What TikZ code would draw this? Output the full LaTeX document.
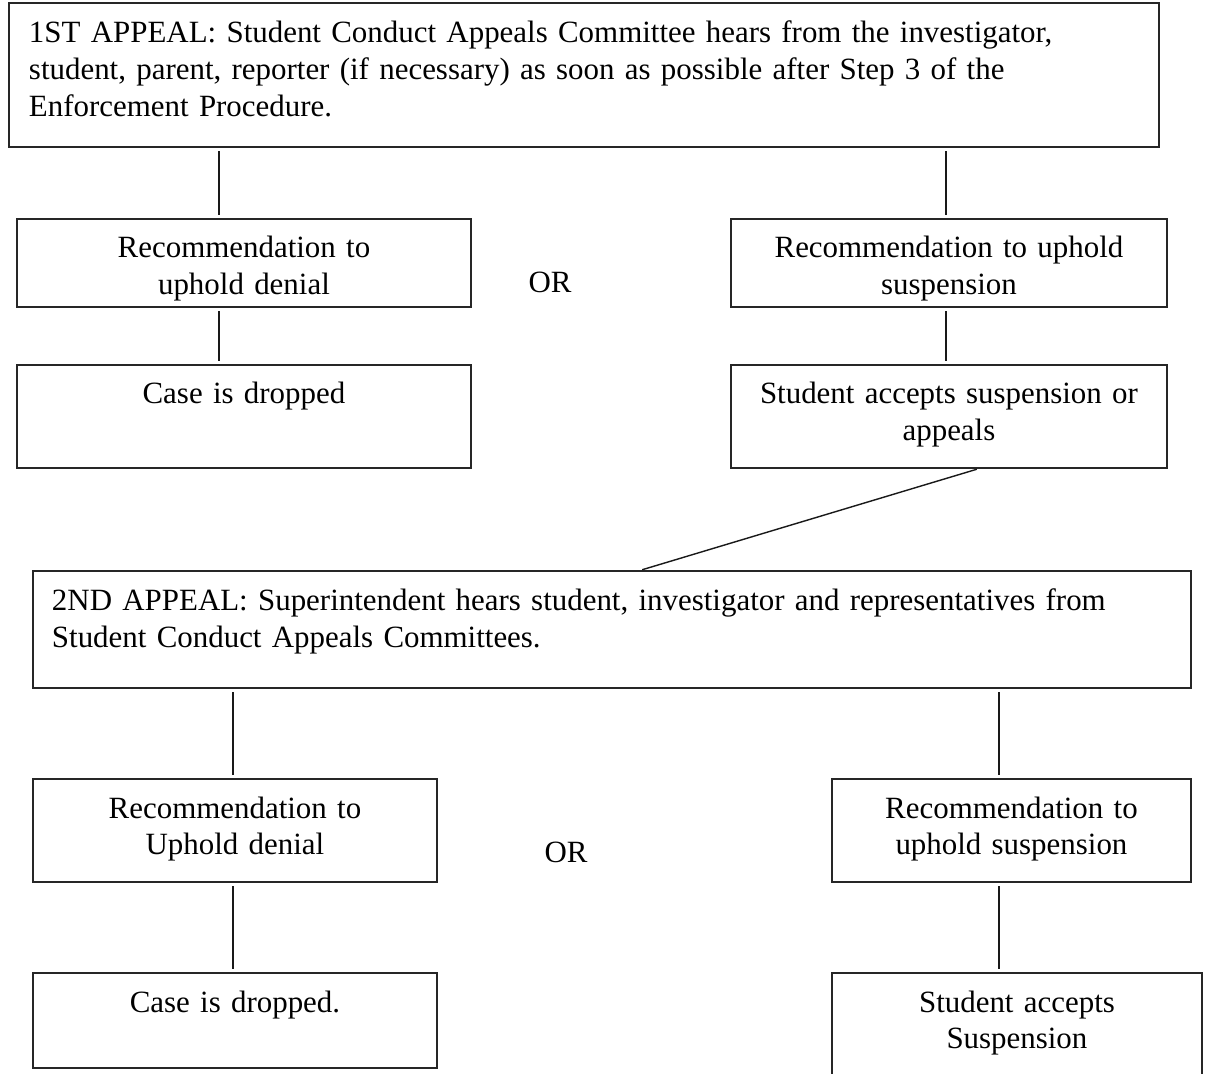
\documentclass[tikz,border=0pt]{standalone}
\usepackage{fontspec}
\setmainfont{Liberation Serif}

\begin{document}
\begin{tikzpicture}[x=0.02cm, y=-0.02cm,
  box/.style={draw=black!85, line width=1pt, anchor=north west, inner sep=0pt, outer sep=0pt,
    text height=0.78cm, align=center, font=\fontsize{17.6}{21}\selectfont},
  wide/.style={box, align=left, inner xsep=0.4cm, text height=0.8cm},
  link/.style={draw=black!90, line width=0.8pt, shorten <=2.5pt, shorten >=2.5pt},
  word/.style={inner sep=0pt, font=\fontsize{17.6}{21}\selectfont}]
\clip (0,0) rectangle (1206,1074);
\fill [white] (0,0) rectangle (1206,1074);
\node [wide, text width=22.2cm, text depth=2.08cm] (a1) at (9,3) {1ST APPEAL: Student Conduct Appeals Committee hears from the investigator,\\student, parent, reporter (if necessary) as soon as possible after Step 3 of the\\Enforcement Procedure.};
\node [box, text width=9.08cm, text depth=0.98cm] (l1) at (17,219) {Recommendation to\\uphold denial};
\node [box, text width=8.72cm, text depth=0.98cm] (r1) at (731,219) {Recommendation to uphold\\suspension};
\node [word] (or1) at (550,282) {OR};
\node [box, text width=9.08cm, text depth=1.28cm] (l2) at (17,365) {Case is dropped};
\node [box, text width=8.72cm, text depth=1.28cm] (r2) at (731,365) {Student accepts suspension or\\appeals};
\node [wide, inner xsep=0.38cm, text width=22.4cm, text depth=1.54cm] (a2) at (33,571) {2ND APPEAL: Superintendent hears student, investigator and representatives from\\Student Conduct Appeals Committees.};
\node [box, text width=8.08cm, text depth=1.28cm] (l3) at (33,779) {Recommendation to\\Uphold denial};
\node [box, text width=7.18cm, text depth=1.28cm] (r3) at (832,779) {Recommendation to\\uphold suspension};
\node [word] (or2) at (566,852) {OR};
\node [box, text width=8.08cm, text depth=1.12cm] (l4) at (33,973) {Case is dropped.};
\node [box, text width=7.4cm, text depth=1.62cm] (r4) at (832,973) {Student accepts\\Suspension};
\draw [link] (a1.south -| 219,0) -- (l1.north -| 219,0);
\draw [link] (a1.south -| 946,0) -- (r1.north -| 946,0);
\draw [link] (l1.south -| 219,0) -- (l2.north -| 219,0);
\draw [link] (r1.south -| 946,0) -- (r2.north -| 946,0);
\draw [link] (r2.south -| 981,0) -- (a2.north -| 638,0);
\draw [link] (a2.south -| 233,0) -- (l3.north -| 233,0);
\draw [link] (a2.south -| 999,0) -- (r3.north -| 999,0);
\draw [link] (l3.south -| 233,0) -- (l4.north -| 233,0);
\draw [link] (r3.south -| 999,0) -- (r4.north -| 999,0);
\end{tikzpicture}
\end{document}
